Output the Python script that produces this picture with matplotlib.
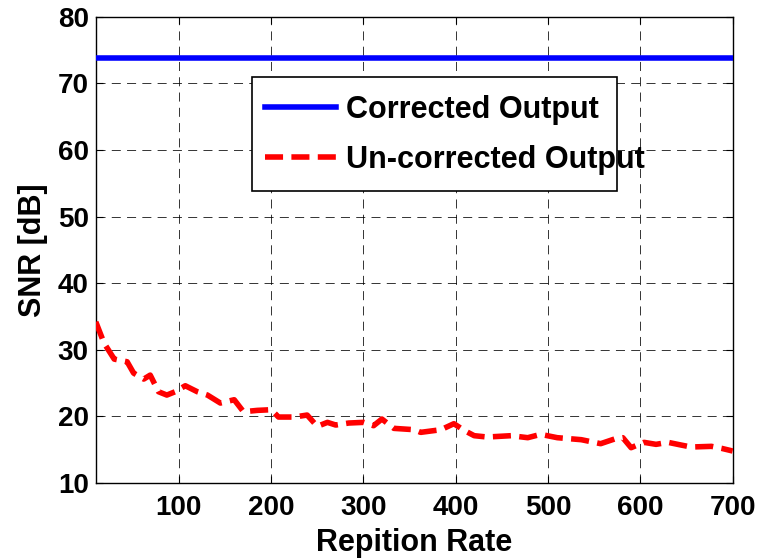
"""
SNR vs repetition rate
"""

import matplotlib
matplotlib.use("Agg")
import matplotlib.pyplot as plt
from matplotlib.patches import Rectangle

plt.rcParams["font.family"] = ["Liberation Sans", "DejaVu Sans"]
plt.rcParams["font.weight"] = "bold"
plt.rcParams["lines.scale_dashes"] = False

# 数据
corrected_x = [10, 700]
corrected_snr = [73.8, 73.8]

uncorrected_x = [10, 19, 30, 44, 51, 62, 69, 78, 87, 96, 107, 120, 131, 145, 160,
                 170, 185, 200, 208, 225, 239, 250, 261, 270, 284, 300, 311, 320,
                 333, 355, 362, 384, 398, 409, 420, 434, 460, 478, 492, 510, 536,
                 557, 572, 581, 590, 604, 617, 630, 644, 655, 677, 688, 700]
uncorrected_snr = [34.2, 31.0, 28.6, 28.2, 26.5, 25.6, 26.2, 23.7, 23.2, 23.7, 24.6,
                   23.7, 23.2, 22.0, 22.5, 20.7, 20.9, 21.0, 19.9, 19.9, 20.2, 18.5,
                   19.1, 18.7, 19.0, 19.1, 18.6, 19.6, 18.2, 18.0, 17.6, 18.0, 18.9,
                   17.9, 17.1, 16.9, 17.1, 16.8, 17.3, 16.8, 16.5, 15.9, 16.6, 16.8,
                   15.3, 16.1, 15.8, 16.1, 15.7, 15.4, 15.5, 15.2, 14.8]

x_ticks = [100, 200, 300, 400, 500, 600, 700]
y_ticks = [10, 20, 30, 40, 50, 60, 70, 80]

fig = plt.figure(figsize=(7.6, 5.59), dpi=100)
ax = fig.add_axes([0.126, 0.136, 0.838, 0.834])

ax.plot(corrected_x, corrected_snr, color="#0000ff", linewidth=4, zorder=3,
        label="Corrected Output")
ax.plot(uncorrected_x, uncorrected_snr, color="#ff0000", linewidth=4, zorder=3,
        dashes=(13, 6), label="Un-corrected Output")

ax.set_xlim(10, 700)
ax.set_ylim(10, 80)
ax.set_xticks(x_ticks)
ax.set_yticks(y_ticks)
ax.tick_params(direction="in", top=True, right=True, labelsize=20, length=5, width=0.8, pad=5)
ax.tick_params(axis="x", pad=9)
for lab in ax.get_xticklabels() + ax.get_yticklabels():
    lab.set_fontweight("bold")

ax.grid(True, color="black", linewidth=0.7, dashes=(6.5, 4.5), alpha=0.8)
for s in ax.spines.values():
    s.set_linewidth(1.0)

ax.set_xlabel("Repition Rate", fontsize=22, fontweight="bold", labelpad=5)
ax.set_ylabel("SNR [dB]", fontsize=22, fontweight="bold", labelpad=7)

# 图例框 (文字超出边框, 和原图一样)
ax.add_patch(Rectangle((0.245, 0.627), 0.573, 0.244, transform=ax.transAxes,
                       facecolor="white", edgecolor="black", linewidth=1.2, zorder=2.5))
leg = ax.legend(loc="center left", bbox_to_anchor=(0.265, 0.747), fontsize=22,
                handlelength=2.35, handletextpad=0.3, frameon=False,
                borderpad=0, borderaxespad=0, labelspacing=0.65)
for t in leg.get_texts():
    t.set_fontweight("bold")

fig.savefig("out.png", dpi=100, facecolor="white")
